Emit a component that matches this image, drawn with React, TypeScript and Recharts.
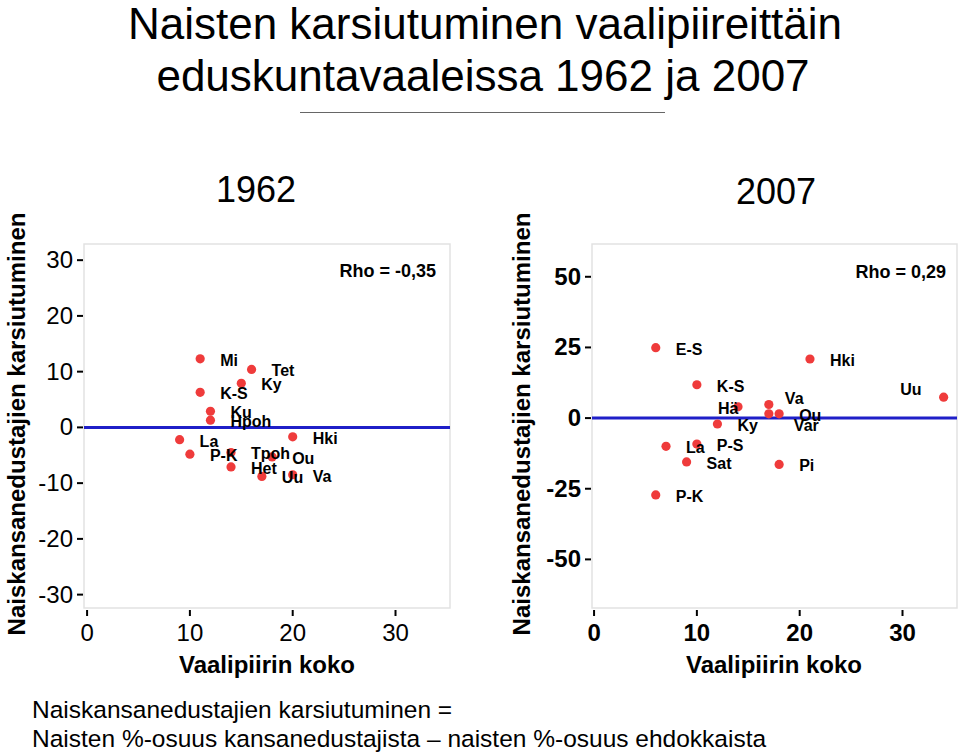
import React from "react";
import {
  ScatterChart, Scatter, XAxis, YAxis, ReferenceLine, ReferenceArea,
} from "recharts";

const FONT = '"Liberation Sans", Arial, Helvetica, sans-serif';
const RED = "#ef3b3b";
const BLUE = "#1f1fc8";

// 1962
const names1962 = ["Mi", "Tet", "Ky", "K-S", "Ku", "Hpoh", "La", "Hki", "P-K", "Tpoh", "Ou", "Het", "Uu", "Va"];
const size1962 = [11, 16, 15, 11, 12, 12, 9, 20, 10, 14, 18, 14, 17, 20];
const diff1962 = [12.3, 10.4, 7.9, 6.3, 2.9, 1.3, -2.2, -1.7, -4.8, -4.5, -5.3, -7.1, -8.8, -8.5];

// 2007
const names2007 = ["E-S", "Hki", "K-S", "Uu", "Hä", "Va", "Var", "Ou", "Ky", "La", "P-S", "Sat", "Pi", "P-K"];
const size2007 = [6, 21, 10, 34, 14, 17, 17, 18, 12, 7, 10, 9, 18, 6];
const diff2007 = [24.9, 20.9, 11.8, 7.4, 4.0, 4.8, 1.5, 1.5, -2.1, -10.0, -9.2, -15.5, -16.4, -27.2];

const xTicks = [0, 10, 20, 30];
const yTicks1962 = [-30, -20, -10, 0, 10, 20, 30];
const yTicks2007 = [-50, -25, 0, 25, 50];

const rho1962 = "Rho = -0,35";
const rho2007 = "Rho = 0,29";

const build = (names: string[], xs: number[], ys: number[]) =>
  names.map((name, i) => ({ name, size: xs[i], diff: ys[i] }));

const data1962 = build(names1962, size1962, diff1962);
const data2007 = build(names2007, size2007, diff2007);

// label placement tweaks (layout only)
const nudge2007: Record<string, { dx: number; dy: number; anchor?: string }> = {
  Uu: { dx: -22, dy: -2, anchor: "end" },
  "Hä": { dx: -20, dy: 7 },
  Va: { dx: 16, dy: -1 },
  Var: { dx: 25, dy: 17 },
};

const makeYTick = (bold: boolean) => (props: any) => {
  const { x, y, payload } = props;
  return (
    <g>
      <line x1={x + 4} x2={x + 10} y1={y} y2={y} stroke="#000" strokeWidth={2} />
      <text x={x} y={y} dy={8} textAnchor="end" fontSize={24} fontFamily={FONT}
        fontWeight={bold ? "bold" : "normal"} fill="#000">
        {payload.value}
      </text>
    </g>
  );
};

const makeXTick = (bold: boolean) => (props: any) => {
  const { x, y, payload } = props;
  return (
    <g>
      <line x1={x} x2={x} y1={y - 8} y2={y - 2} stroke="#000" strokeWidth={2} />
      <text x={x} y={y} dy={23} textAnchor="middle" fontSize={24} fontFamily={FONT}
        fontWeight={bold ? "bold" : "normal"} fill="#000">
        {payload.value}
      </text>
    </g>
  );
};

const Dot = (p: any) => <circle cx={p.cx} cy={p.cy} r={4.6} fill={RED} />;

const makeLabel = (nudges: Record<string, any>) => (p: any) => {
  const n = nudges[p.payload.name] ?? { dx: 20, dy: 7 };
  return (
    <text x={p.cx + n.dx} y={p.cy + n.dy} textAnchor={n.anchor ?? "start"}
      fontSize={16} fontWeight="bold" fontFamily={FONT} fill="#000">
      {p.payload.name}
    </text>
  );
};

function Panel(props: {
  data: any[]; xDomain: [number, number]; yDomain: [number, number];
  yTicks: number[]; bold: boolean; left: number; marginLeft: number; marginRight: number;
  nudges: Record<string, any>;
}) {
  const { data, xDomain, yDomain, yTicks, bold, left, marginLeft, marginRight, nudges } = props;
  return (
    <div style={{ position: "absolute", left, top: 0 }}>
      <ScatterChart width={480} height={690}
        margin={{ top: 244, right: marginRight, bottom: 42, left: marginLeft }}>
        <XAxis type="number" dataKey="size" domain={xDomain} ticks={xTicks}
          allowDataOverflow axisLine={false} tickLine={false} tickSize={8} tickMargin={2}
          height={40} tick={makeXTick(bold)} />
        <YAxis type="number" dataKey="diff" domain={yDomain} ticks={yTicks}
          allowDataOverflow axisLine={false} tickLine={false} tickSize={8} tickMargin={3}
          width={60} tick={makeYTick(bold)} />
        <ReferenceArea x1={xDomain[0]} x2={xDomain[1]} y1={yDomain[0]} y2={yDomain[1]}
          fill="#fff" fillOpacity={0} stroke="#e2e2e2" strokeWidth={1.5} ifOverflow="visible" />
        <ReferenceLine y={0} stroke={BLUE} strokeWidth={3} />
        <Scatter data={data} shape={Dot} isAnimationActive={false} />
        <Scatter data={data} shape={makeLabel(nudges)} isAnimationActive={false} />
      </ScatterChart>
    </div>
  );
}

const abs = (s: React.CSSProperties): React.CSSProperties => ({
  position: "absolute", fontFamily: FONT, color: "#000", whiteSpace: "nowrap", lineHeight: 1, ...s,
});

export default function App() {
  return (
    <div style={{ position: "absolute", left: 0, top: 0, width: 960, height: 752, background: "#fff", overflow: "hidden" }}>
      <div style={abs({ left: 0, width: 970, top: 2, fontSize: 44, textAlign: "center" })}>
        Naisten karsiutuminen vaalipiireittäin
      </div>
      <div style={abs({ left: 0, width: 966, top: 54, fontSize: 44, textAlign: "center" })}>
        eduskuntavaaleissa 1962 ja 2007
      </div>
      <div style={{ position: "absolute", left: 300, top: 112, width: 365, height: 1, background: "#666" }} />

      <div style={abs({ left: 156, width: 200, top: 172, fontSize: 36, textAlign: "center" })}>1962</div>
      <div style={abs({ left: 676, width: 200, top: 174, fontSize: 36, textAlign: "center" })}>2007</div>

      <Panel data={data1962} xDomain={[-0.3, 35.3]} yDomain={[-32.4, 32.9]} yTicks={yTicks1962}
        bold={false} left={0} marginLeft={24} marginRight={30} nudges={{}} />
      <Panel data={data2007} xDomain={[-0.2, 35.3]} yDomain={[-67.2, 61.6]} yTicks={yTicks2007}
        bold={true} left={480} marginLeft={52} marginRight={3} nudges={nudge2007} />

      <div style={abs({ left: 240, width: 196, top: 262, fontSize: 18, fontWeight: "bold", textAlign: "right" })}>{rho1962}</div>
      <div style={abs({ left: 750, width: 196, top: 263, fontSize: 18, fontWeight: "bold", textAlign: "right" })}>{rho2007}</div>

      <div style={abs({ left: 17 - 250, width: 500, top: 424 - 12, fontSize: 24, fontWeight: "bold", textAlign: "center", transform: "rotate(-90deg)" })}>
        Naiskansanedustajien karsiutuminen
      </div>
      <div style={abs({ left: 522 - 250, width: 500, top: 424 - 12, fontSize: 24, fontWeight: "bold", textAlign: "center", transform: "rotate(-90deg)" })}>
        Naiskansanedustajien karsiutuminen
      </div>

      <div style={abs({ left: 167, width: 200, top: 653, fontSize: 24, fontWeight: "bold", textAlign: "center" })}>Vaalipiirin koko</div>
      <div style={abs({ left: 674, width: 200, top: 653, fontSize: 24, fontWeight: "bold", textAlign: "center" })}>Vaalipiirin koko</div>

      <div style={abs({ left: 32, top: 698, fontSize: 24.5 })}>Naiskansanedustajien karsiutuminen =</div>
      <div style={abs({ left: 32, top: 727, fontSize: 24.5 })}>
        Naisten %-osuus kansanedustajista – naisten %-osuus ehdokkaista
      </div>
    </div>
  );
}
